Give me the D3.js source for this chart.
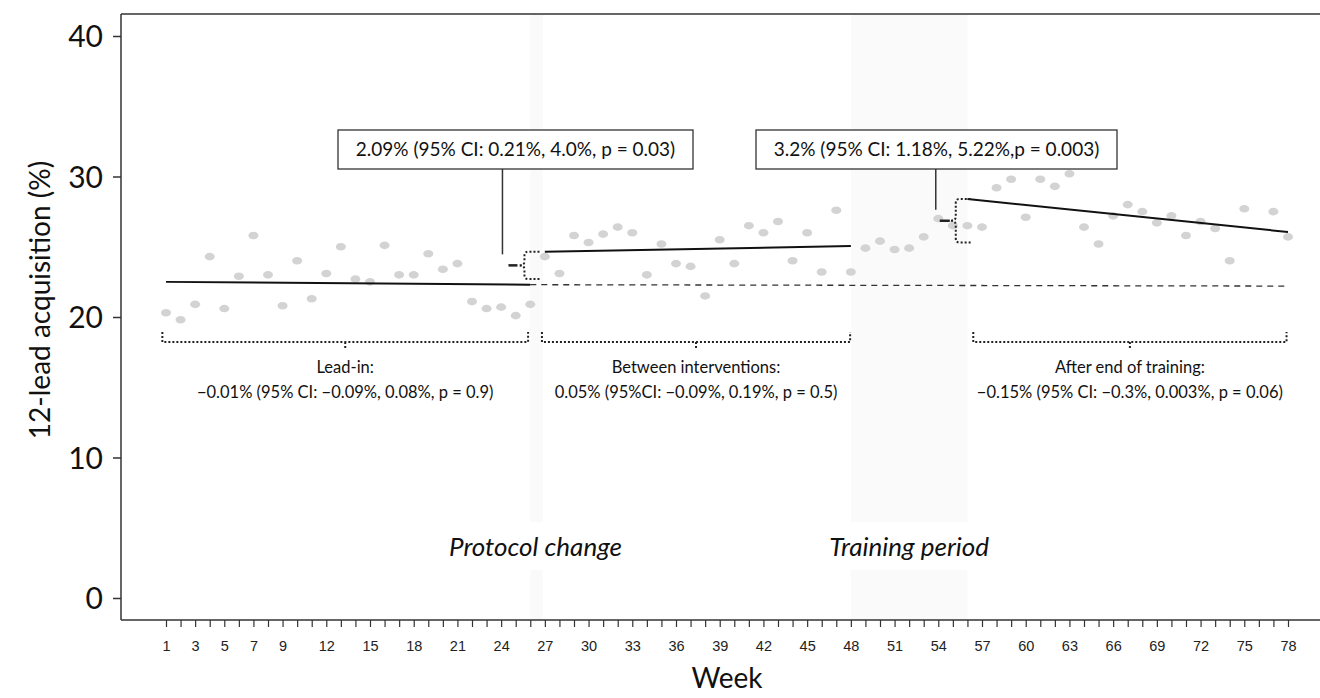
<!DOCTYPE html>
<html><head><meta charset="utf-8">
<script src="https://cdn.jsdelivr.net/npm/d3@7"></script>
<style>body{margin:0;background:#fff}svg{display:block}</style>
</head><body><svg id="c" width="1320" height="698"></svg>
<script>
// ---- data ----
const weeks = d3.range(1, 79);
const acquisition = [20.3,19.8,20.9,24.3,20.6,22.9,25.8,23.0,20.8,24.0,21.3,23.1,25.0,22.7,22.5,25.1,23.0,23.0,24.5,23.4,
 23.8,21.1,20.6,20.7,20.1,20.9,24.3,23.1,25.8,25.3,25.9,26.4,26.0,23.0,25.2,23.8,23.6,21.5,25.5,23.8,
 26.5,26.0,26.8,24.0,26.0,23.2,27.6,23.2,24.9,25.4,24.8,24.9,25.7,27.0,26.5,26.5,26.4,29.2,29.8,27.1,
 29.8,29.3,30.2,26.4,25.2,27.2,28.0,27.5,26.7,27.2,25.8,26.8,26.3,24.0,27.7,null,27.5,25.7];
const xTickLabels = [1,3,5,7,9,12,15,18,21,24,27,30,33,36,39,42,45,48,51,54,57,60,63,66,69,72,75,78];
const yTicks = [0,10,20,30,40];
// segmented regression fits [week, value]
const leadInFit = [[1,22.5],[26,22.3]];
const counterfactual = [[26,22.3],[78,22.2]];
const betweenFit = [[27,24.65],[48,25.05]];
const afterFit = [[56,28.4],[78,26.05]];
// shaded periods [start week, end week, label]
const periods = [[26,26.85,"Protocol change"],[48,56,"Training period"]];
// step-change braces
const steps = [
  {wk:25.6, top:24.65, bot:22.7, lab:"2.09% (95% CI: 0.21%, 4.0%, p = 0.03)"},
  {wk:55.2, top:28.4, bot:25.3, lab:"3.2% (95% CI: 1.18%, 5.22%,p = 0.003)"}
];
// slope brackets: [start wk, end wk, title, estimate]
const slopes = [
  [0.75,25.85,"Lead-in:","\u22120.01% (95% CI: \u22120.09%, 0.08%, p = 0.9)"],
  [26.8,47.95,"Between interventions:","0.05% (95%CI: \u22120.09%, 0.19%, p = 0.5)"],
  [56.4,77.9,"After end of training:","\u22120.15% (95% CI: \u22120.3%, 0.003%, p = 0.06)"]
];

// ---- drawing ----
const svg = d3.select("#c");
const x = d3.scaleLinear().domain([1,78]).range([166,1288]);
const y = d3.scaleLinear().domain([0,40]).range([598,36]);
const plotTop = 14, plotBottom = 620, plotLeft = 121;
const font = "Lato, 'Open Sans', sans-serif";

// shaded bands with gap for the label
periods.forEach(p => {
  const x0 = x(p[0]), x1 = x(p[1]);
  svg.append("rect").attr("x",x0).attr("y",plotTop).attr("width",x1-x0).attr("height",522-plotTop).attr("fill","#fafafa");
  svg.append("rect").attr("x",x0).attr("y",570).attr("width",x1-x0).attr("height",plotBottom-570).attr("fill","#fafafa");
  svg.append("text").attr("x",(x0+x1)/2 + (p[1]-p[0]<2?-1:0)).attr("y",556).attr("text-anchor","middle")
    .attr("font-family",font).attr("font-style","italic").attr("font-size",26).attr("fill","#111").text(p[2]);
});

// points
svg.append("g").selectAll("ellipse").data(weeks.filter((w,i)=>acquisition[i]!=null)).join("ellipse")
  .attr("cx",w=>x(w)).attr("cy",w=>y(acquisition[w-1])).attr("rx",5).attr("ry",3.8).attr("fill","#d3d3d3");

// fit lines
const line = d3.line().x(d=>x(d[0])).y(d=>y(d[1]));
[leadInFit,betweenFit,afterFit].forEach(f=>svg.append("path").attr("d",line(f)).attr("stroke","#111").attr("stroke-width",2).attr("fill","none"));
svg.append("path").attr("d",line(counterfactual)).attr("stroke","#333").attr("stroke-width",1.3).attr("stroke-dasharray","6,5").attr("fill","none");

// braces for step changes
steps.forEach((s,i) => {
  const xv = x(s.wk), yt = y(s.top), yb = y(s.bot), ym = (yt+yb)/2, r = 4, w = 6, ext = 15;
  const d = `M${xv+ext},${yt} H${xv+r} Q${xv},${yt} ${xv},${yt+r} V${ym-r} Q${xv},${ym} ${xv-w},${ym} Q${xv},${ym} ${xv},${ym+r} V${yb-r} Q${xv},${yb} ${xv+r},${yb} H${xv+ext}`;
  svg.append("path").attr("d",d).attr("fill","none").attr("stroke","#222").attr("stroke-width",2).attr("stroke-dasharray","2,2");
  svg.append("line").attr("x1",xv-w-10).attr("x2",xv-w).attr("y1",ym).attr("y2",ym).attr("stroke","#222").attr("stroke-width",2.5).attr("stroke-dasharray", i===0 ? "9,1" : "10,1,2,2");
  const cx = xv - w - 14 + (i===0?-2:0);
  const box = i===0 ? [338,693] : [756,1117];
  svg.append("line").attr("x1",cx).attr("x2",cx).attr("y1",169).attr("y2",ym-11).attr("stroke","#333").attr("stroke-width",1.5);
  svg.append("rect").attr("x",box[0]).attr("y",130).attr("width",box[1]-box[0]).attr("height",39).attr("fill","#fff").attr("stroke","#333").attr("stroke-width",1.3);
  svg.append("text").attr("x",(box[0]+box[1])/2).attr("y",156).attr("text-anchor","middle").attr("font-family",font).attr("font-size",19).attr("fill","#111").text(s.lab);
});

// slope brackets
slopes.forEach(s => {
  const x0 = x(s[0]), x1 = x(s[1]), xm = (x0+x1)/2, yb = 342;
  const d = `M${x0},${yb-10} V${yb} H${x1} V${yb-10} M${xm},${yb} V${yb+7}`;
  svg.append("path").attr("d",d).attr("fill","none").attr("stroke","#222").attr("stroke-width",2).attr("stroke-dasharray","2,2");
  svg.append("text").attr("x",xm).attr("y",373).attr("text-anchor","middle").attr("font-family",font).attr("font-size",16.5).attr("fill","#111").text(s[2]);
  svg.append("text").attr("x",xm).attr("y",398).attr("text-anchor","middle").attr("font-family",font).attr("font-size",16.5).attr("fill","#111").text(s[3]);
});

// axes
svg.append("line").attr("x1",plotLeft).attr("x2",1320).attr("y1",plotTop).attr("y2",plotTop).attr("stroke","#333").attr("stroke-width",1.5);
const yAxis = svg.append("g").attr("transform",`translate(${plotLeft},0)`)
  .call(d3.axisLeft(y).tickValues(yTicks).tickSize(8).tickPadding(10));
yAxis.select(".domain").attr("d",`M0,${plotTop}V${plotBottom}`).attr("stroke","#333").attr("stroke-width",1.5);
yAxis.selectAll(".tick line").attr("stroke","#333").attr("stroke-width",1.5);
yAxis.selectAll("text").attr("font-family",font).attr("font-size",30).attr("fill","#111").attr("dy","0.35em");

const xAxis = svg.append("g").attr("transform",`translate(0,${plotBottom})`)
  .call(d3.axisBottom(x).tickValues(weeks).tickSize(7).tickPadding(14).tickFormat(w => xTickLabels.includes(w) ? w : ""));
xAxis.select(".domain").attr("d",`M${plotLeft},0H1320`).attr("stroke","#333").attr("stroke-width",1.5);
xAxis.selectAll(".tick line").attr("stroke","#333").attr("stroke-width",1.2);
xAxis.selectAll("text").attr("font-family","'Liberation Sans', Arial, sans-serif").attr("font-size",14.5).attr("fill","#222");

svg.append("text").attr("transform","translate(50,300) rotate(-90)").attr("text-anchor","middle")
  .attr("font-family",font).attr("font-size",28).attr("fill","#111").text("12-lead acquisition (%)");
svg.append("text").attr("x",727).attr("y",688).attr("text-anchor","middle")
  .attr("font-family",font).attr("font-size",28).attr("fill","#111").text("Week");
</script></body></html>
